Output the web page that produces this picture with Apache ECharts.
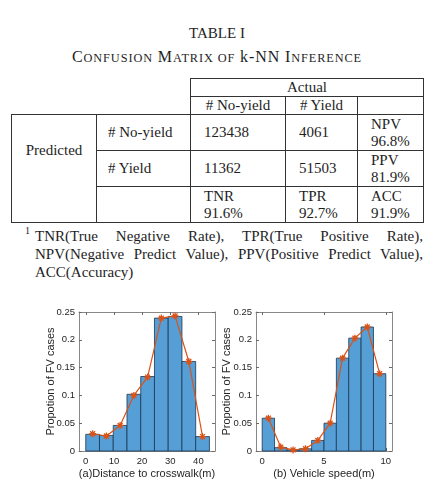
<!DOCTYPE html>
<html>
<head>
<meta charset="utf-8">
<script src="https://cdn.jsdelivr.net/npm/echarts@6/dist/echarts.min.js"></script>
<style>
  html, body { margin: 0; padding: 0; background: #fff; }
  body { width: 446px; height: 494px; position: relative; overflow: hidden;
         font-family: "Liberation Serif", "Times New Roman", serif; color: #1e1e1e; }
  .title { position: absolute; left: 11px; width: 412px; text-align: center; font-size: 15px; line-height: 18px; }
  .caps { font-size: 16px; letter-spacing: 0.9px; }
  .sc { font-size: 12.3px; }
  table { position: absolute; left: 11px; top: 78px; border-collapse: collapse; table-layout: fixed;
          font-size: 15px; line-height: 17px; }
  td { padding: 0 0 0 13px; border: 1px solid #333; vertical-align: middle; white-space: nowrap; }
  td.c { text-align: center; padding: 0; }
  td.none { border: none; }
  .note { position: absolute; left: 35px; width: 388px; font-size: 15px; line-height: 18px; }
  .just { text-align: justify; text-align-last: justify; }
  #main { position: absolute; left: 0; top: 300px; width: 446px; height: 194px; }
</style>
</head>
<body>
<div class="title" style="top:24px">TABLE I</div>
<div class="title caps" style="top:48px">C<span class="sc">ONFUSION</span> M<span class="sc">ATRIX OF</span> k-NN I<span class="sc">NFERENCE</span></div>

<table>
  <colgroup><col style="width:85px"><col style="width:94px"><col style="width:95px"><col style="width:72px"><col style="width:66px"></colgroup>
  <tr style="height:18px"><td class="none" colspan="2" rowspan="2"></td><td class="c" colspan="3">Actual</td></tr>
  <tr style="height:18px"><td class="c"># No-yield</td><td class="c"># Yield</td><td></td></tr>
  <tr style="height:36px"><td class="c" rowspan="2" style="border-bottom:none">Predicted</td><td style="padding-left:11px"># No-yield</td><td>123438</td><td>4061</td><td>NPV<br>96.8%</td></tr>
  <tr style="height:36px"><td style="padding-left:11px"># Yield</td><td>11362</td><td>51503</td><td>PPV<br>81.9%</td></tr>
  <tr style="height:36px"><td style="border-top:none"></td><td></td><td>TNR<br>91.6%</td><td>TPR<br>92.7%</td><td>ACC<br>91.9%</td></tr>
</table>

<div style="position:absolute;left:25px;top:225px;font-size:10px;">1</div>
<div class="note just" style="top:227px">TNR(True Negative Rate), TPR(True Positive Rate),</div>
<div class="note just" style="top:245px">NPV(Negative Predict Value), PPV(Positive Predict Value),</div>
<div class="note" style="top:263px">ACC(Accuracy)</div>

<div id="main"></div>
<script>
// histogram (a): distance to crosswalk
const distEdges = [0, 4.88, 9.76, 14.64, 19.52, 24.4, 29.28, 34.16, 39.04, 43.92];
const distBars = [0.030, 0.028, 0.046, 0.102, 0.134, 0.239, 0.242, 0.161, 0.026];
const distLine = [0.031, 0.027, 0.046, 0.100, 0.133, 0.239, 0.243, 0.161, 0.026];
const distTicks = [0, 10, 20, 30, 40];

// histogram (b): vehicle speed
const speedEdges = [0, 1, 2, 3, 4, 5, 6, 7, 8, 9, 10];
const speedBars = [0.059, 0.006, 0.002, 0.004, 0.019, 0.050, 0.167, 0.203, 0.223, 0.139];
const speedLine = [0.059, 0.007, 0.002, 0.004, 0.019, 0.050, 0.167, 0.203, 0.223, 0.139];
const speedTicks = [0, 5, 10];

const barFill = '#559fd6';
const barEdge = '#1d3650';
const lineColor = '#d95319';
const axisColor = '#6a6a6a';
const textColor = '#262626';
const asterisk = 'path://M5,0 L5,10 M0,5 L10,5 M1.5,1.5 L8.5,8.5 M1.5,8.5 L8.5,1.5';

function histData(edges, vals) {
  return vals.map((v, i) => [edges[i], edges[i + 1], v]);
}
function lineData(edges, vals) {
  return vals.map((v, i) => [(edges[i] + edges[i + 1]) / 2, v]);
}

function renderBar(params, api) {
  const p0 = api.coord([api.value(0), api.value(2)]);
  const p1 = api.coord([api.value(1), 0]);
  return {
    type: 'rect',
    shape: { x: p0[0], y: p0[1], width: p1[0] - p0[0], height: p1[1] - p0[1] },
    style: { fill: barFill, stroke: barEdge, lineWidth: 0.8 }
  };
}

function xAxes(gridIndex, min, max, ticks, name) {
  return [{
    type: 'value', gridIndex, min, max, position: 'bottom',
    name, nameLocation: 'middle', nameGap: 17, nameMoveOverlap: false,
    nameTextStyle: { fontFamily: 'Liberation Sans', fontSize: 11, color: textColor },
    axisLine: { onZero: false, lineStyle: { color: axisColor, width: 0.8 } },
    axisTick: { inside: true, length: 3, customValues: ticks, lineStyle: { color: axisColor } },
    axisLabel: { customValues: ticks, margin: 5, fontFamily: 'Liberation Sans', fontSize: 9.5, color: textColor },
    splitLine: { show: false }
  }, {
    type: 'value', gridIndex, min, max, position: 'top',
    axisLine: { onZero: false, lineStyle: { color: axisColor, width: 0.8 } },
    axisTick: { inside: true, length: 3, customValues: ticks, lineStyle: { color: axisColor } },
    axisLabel: { show: false },
    splitLine: { show: false }
  }];
}

function yAxes(gridIndex, gap) {
  return [{
    type: 'value', gridIndex, min: 0, max: 0.25, interval: 0.05, position: 'left',
    name: 'Propotion of FV cases', nameLocation: 'middle', nameGap: gap, nameMoveOverlap: false,
    nameTextStyle: { fontFamily: 'Liberation Sans', fontSize: 11, color: textColor },
    axisLine: { show: true, onZero: false, lineStyle: { color: axisColor, width: 0.8 } },
    axisTick: { show: true, inside: true, length: 3, lineStyle: { color: axisColor } },
    axisLabel: { margin: 4, fontFamily: 'Liberation Sans', fontSize: 9.5, color: textColor,
                 formatter: v => String(+v.toFixed(2)) },
    splitLine: { show: false }
  }, {
    type: 'value', gridIndex, min: 0, max: 0.25, interval: 0.05, position: 'right',
    axisLine: { show: true, onZero: false, lineStyle: { color: axisColor, width: 0.8 } },
    axisTick: { show: true, inside: true, length: 3, lineStyle: { color: axisColor } },
    axisLabel: { show: false },
    splitLine: { show: false }
  }];
}

const myChart = echarts.init(document.getElementById('main'));
const option = {
  animation: false,
  grid: [
    { left: 79, top: 12, width: 136, height: 139 },
    { left: 256, top: 12, width: 136, height: 139 }
  ],
  xAxis: [
    ...xAxes(0, -2.4, 45.9, distTicks, '(a)Distance to crosswalk(m)'),
    ...xAxes(1, -0.5, 10.5, speedTicks, '(b) Vehicle speed(m)')
  ],
  yAxis: [...yAxes(0, 23), ...yAxes(1, 24)],
  series: [
    { type: 'custom', xAxisIndex: 0, yAxisIndex: 0, renderItem: renderBar,
      encode: { x: [0, 1], y: 2 }, data: histData(distEdges, distBars) },
    { type: 'line', xAxisIndex: 0, yAxisIndex: 0, data: lineData(distEdges, distLine),
      symbol: asterisk, symbolSize: 7,
      lineStyle: { color: lineColor, width: 1.2 },
      itemStyle: { color: 'none', borderColor: lineColor, borderWidth: 1.3 } },
    { type: 'custom', xAxisIndex: 2, yAxisIndex: 2, renderItem: renderBar,
      encode: { x: [0, 1], y: 2 }, data: histData(speedEdges, speedBars) },
    { type: 'line', xAxisIndex: 2, yAxisIndex: 2, data: lineData(speedEdges, speedLine),
      symbol: asterisk, symbolSize: 7,
      lineStyle: { color: lineColor, width: 1.2 },
      itemStyle: { color: 'none', borderColor: lineColor, borderWidth: 1.3 } }
  ]
};
myChart.setOption(option);
</script>
</body>
</html>
